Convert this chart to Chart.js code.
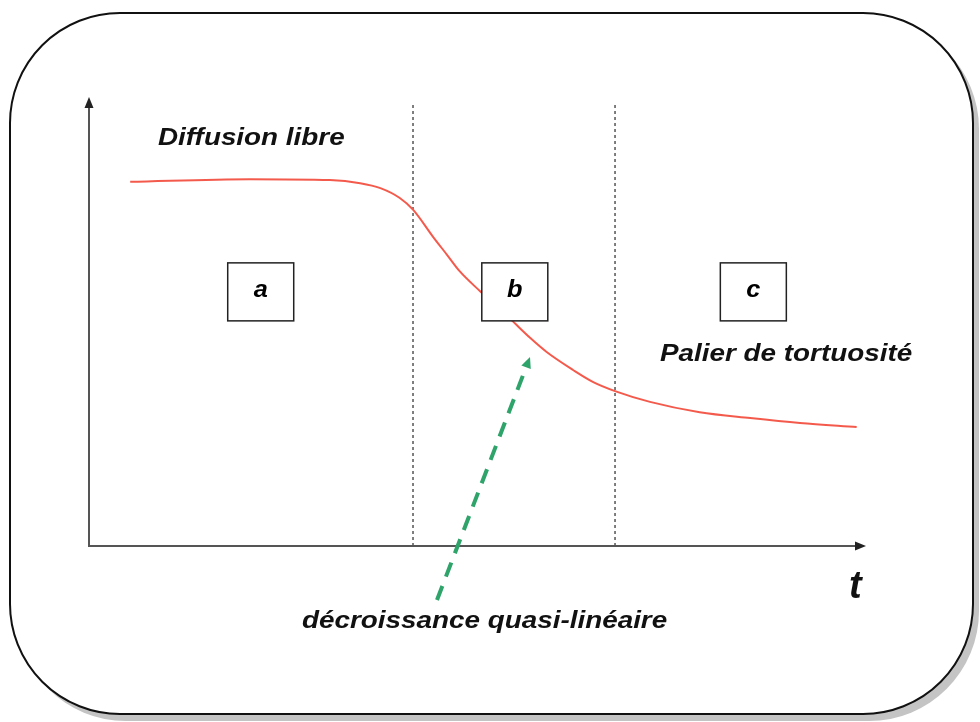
<!DOCTYPE html>
<html>
<head>
<meta charset="utf-8">
<script src="https://cdn.jsdelivr.net/npm/chart.js@4"></script>
<style>
  html, body { margin: 0; padding: 0; background: #fff; }
  #wrap { position: relative; width: 980px; height: 722px; }
</style>
</head>
<body>
<div id="wrap"><canvas id="myChart" width="980" height="722"></canvas></div>
<script>
// t (0-100) vs. diffusion value (0-100)
const timeValues = [5.3, 20.7, 31.0, 34.9, 37.5, 40.0, 41.7, 44.3, 46.1, 47.7, 50.3, 54.2, 56.8, 58.9, 62.3, 64.9, 67.7, 72.2, 78.6, 85.1, 91.5, 98.8];
const curveValues = [81.1, 81.7, 81.5, 80.8, 79.7, 77.5, 74.9, 68.8, 64.8, 61.2, 56.8, 50.6, 46.3, 43.2, 39.2, 36.5, 34.5, 32.1, 29.8, 28.5, 27.4, 26.5];
const boundaries = [41.7, 67.7];
const zoneLabels = ["a", "b", "c"];
const zoneCenters = [22.1, 54.8, 85.5];

const FONT = '"Liberation Sans", Arial, sans-serif';

var data = {
  datasets: [
    {
      label: "diffusion",
      borderColor: "#f45a4c",
      borderWidth: 2,
      pointRadius: 0,
      cubicInterpolationMode: 'monotone',
      data: timeValues.map((t, i) => ({ x: t, y: curveValues[i] }))
    },
    ...boundaries.map(b => ({
      label: "limite",
      borderColor: "#555",
      borderWidth: 1.5,
      borderDash: [3, 3],
      pointRadius: 0,
      data: [{ x: b, y: 0 }, { x: b, y: 98.7 }]
    }))
  ]
};

function arrowHead(ctx, x, y, angle, len, wid) {
  ctx.save();
  ctx.translate(x, y);
  ctx.rotate(angle);
  ctx.beginPath();
  ctx.moveTo(0, 0);
  ctx.lineTo(-len, -wid / 2);
  ctx.lineTo(-len, wid / 2);
  ctx.closePath();
  ctx.fill();
  ctx.restore();
}

// text is slightly stretched horizontally in the original
function wideText(ctx, txt, x, y, sx) {
  ctx.save();
  ctx.translate(x, y);
  ctx.scale(sx, 1);
  ctx.fillText(txt, 0, 0);
  ctx.restore();
}

const frame = {
  id: 'frame',
  beforeDraw(chart) {
    const ctx = chart.ctx;
    ctx.save();
    ctx.fillStyle = '#fff';
    ctx.fillRect(0, 0, chart.width, chart.height);
    // shadow
    ctx.fillStyle = '#c4c4c4';
    ctx.beginPath();
    ctx.roundRect(16, 19, 963, 702, 110);
    ctx.fill();
    ctx.fillStyle = '#fff';
    ctx.strokeStyle = '#111';
    ctx.lineWidth = 2;
    ctx.beginPath();
    ctx.roundRect(10, 13, 963, 701, 110);
    ctx.fill();
    ctx.stroke();

    // axes
    const a = chart.chartArea;
    ctx.strokeStyle = '#555';
    ctx.fillStyle = '#222';
    ctx.lineWidth = 2;
    ctx.beginPath();
    ctx.moveTo(a.left, a.top + 6);
    ctx.lineTo(a.left, a.bottom);
    ctx.lineTo(a.right - 6, a.bottom);
    ctx.stroke();
    arrowHead(ctx, a.left, a.top, -Math.PI / 2, 11, 9);
    arrowHead(ctx, a.right, a.bottom, 0, 11, 9);
    ctx.restore();
  },
  afterDraw(chart) {
    const ctx = chart.ctx;
    const xs = chart.scales.x, ys = chart.scales.y;
    ctx.save();
    // zone boxes
    zoneLabels.forEach((l, i) => {
      const cx = xs.getPixelForValue(zoneCenters[i]);
      const cy = ys.getPixelForValue(56.6);
      ctx.fillStyle = '#fff';
      ctx.fillRect(cx - 33, cy - 29, 66, 58);
      ctx.strokeStyle = '#222';
      ctx.lineWidth = 1.5;
      ctx.strokeRect(cx - 33, cy - 29, 66, 58);
      ctx.fillStyle = '#000';
      ctx.font = 'italic bold 23px ' + FONT;
      ctx.textAlign = 'center';
      ctx.textBaseline = 'alphabetic';
      wideText(ctx, l, cx, cy + 5, 1.1);
    });

    // green dashed arrow
    const x0 = 437, y0 = 600, x1 = 530, y1 = 357;
    const ang = Math.atan2(y1 - y0, x1 - x0);
    ctx.strokeStyle = '#2ea36a';
    ctx.fillStyle = '#2ea36a';
    ctx.lineWidth = 4;
    ctx.setLineDash([15, 10]);
    ctx.beginPath();
    ctx.moveTo(x0, y0);
    ctx.lineTo(x1 - 8 * Math.cos(ang), y1 - 8 * Math.sin(ang));
    ctx.stroke();
    ctx.setLineDash([]);
    arrowHead(ctx, x1, y1, ang, 11, 10);

    // texts
    ctx.fillStyle = '#111';
    ctx.textAlign = 'left';
    ctx.textBaseline = 'alphabetic';
    ctx.font = 'italic bold 24px ' + FONT;
    wideText(ctx, 'Diffusion libre', 158, 145, 1.16);
    wideText(ctx, 'Palier de tortuosité', 660, 361, 1.16);
    wideText(ctx, 'décroissance quasi-linéaire', 302, 628, 1.16);
    ctx.font = 'italic bold 38px ' + FONT;
    ctx.fillText('t', 849, 598);
    ctx.restore();
  }
};

var options = {
  responsive: false,
  animation: false,
  layout: { padding: { left: 89, right: 114, top: 97, bottom: 176 } },
  plugins: {
    legend: { display: false },
    tooltip: { enabled: false }
  },
  scales: {
    x: { type: 'linear', min: 0, max: 100, display: false },
    y: { type: 'linear', min: 0, max: 100, display: false }
  }
};

new Chart(document.getElementById('myChart'), {
  type: 'line',
  data: data,
  options: options,
  plugins: [frame]
});
</script>
</body>
</html>
